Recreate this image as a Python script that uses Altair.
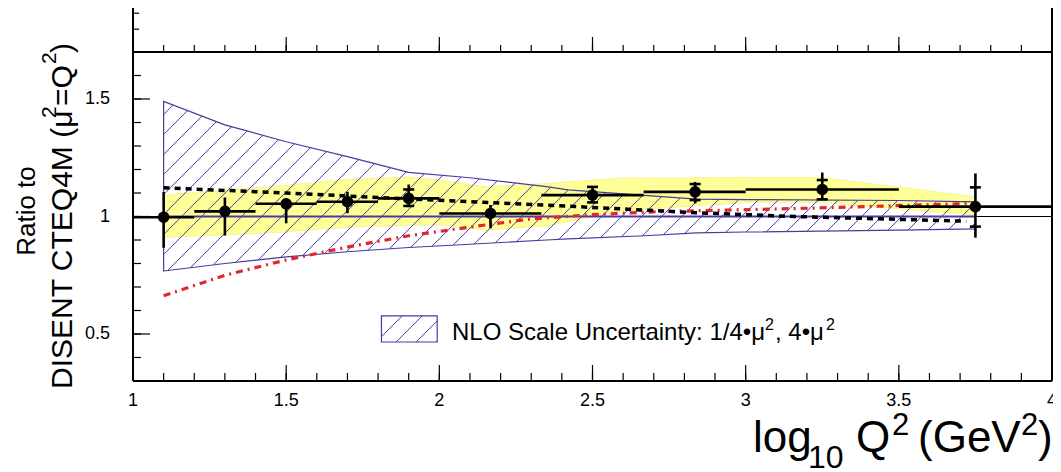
import altair as alt
import numpy as np
import pandas as pd

# ---------------- data ----------------
# measured ratio points
pt_x = [1.1, 1.3, 1.5, 1.7, 1.9, 2.167, 2.5, 2.835, 3.25, 3.75]
pt_xlo = [1.0, 1.2, 1.4, 1.6, 1.8, 2.0, 2.333, 2.667, 3.0, 3.5]
pt_xhi = [1.2, 1.4, 1.6, 1.8, 2.0, 2.333, 2.667, 3.0, 3.5, 4.0]
pt_y = [0.997, 1.022, 1.054, 1.063, 1.077, 1.013, 1.091, 1.105, 1.115, 1.042]
tot_lo = [0.867, 0.919, 0.971, 1.014, 1.040, 0.950, 1.056, 1.056, 1.070, 0.910]
tot_hi = [1.104, 1.081, 1.077, 1.105, 1.136, 1.049, 1.129, 1.147, 1.187, 1.183]
# inner (statistical) error crossbars
cb_x = [1.9, 1.9, 2.5, 2.5, 2.835, 2.835, 3.25, 3.25, 3.75, 3.75]
cb_y = [1.115, 1.045, 1.126, 1.060, 1.138, 1.070, 1.155, 1.073, 1.124, 0.957]

# NLO scale uncertainty band (hatched)
nlo_x = [1.1, 1.3, 1.5, 1.7, 1.9, 2.1, 2.35, 2.42, 2.67, 2.84, 3.0, 3.5, 3.75]
nlo_hi = [1.49, 1.39, 1.318, 1.255, 1.188, 1.165, 1.127, 1.113, 1.09, 1.074, 1.072, 1.068, 1.062]
nlo_lo = [0.768, 0.80, 0.828, 0.85, 0.868, 0.882, 0.90, 0.905, 0.918, 0.93, 0.934, 0.942, 0.947]

# yellow cross-hatched band
yb_x = [1.1, 1.3, 1.5, 1.7, 1.9, 2.0, 2.15, 2.35, 2.5, 2.6, 3.0, 3.25, 3.75]
yb_hi = [1.09, 1.112, 1.133, 1.158, 1.168, 1.155, 1.126, 1.14, 1.155, 1.163, 1.166, 1.166, 1.084]
yb_lo = [0.912, 0.922, 0.935, 0.955, 0.963, 0.965, 0.943, 0.96, 1.0, 1.025, 1.06, 1.06, 1.006]

# black dashed curve
bd_x = [1.1, 1.5, 1.75, 2.1, 2.45, 2.84, 3.16, 3.72]
bd_y = [1.122, 1.10, 1.084, 1.063, 1.042, 1.016, 1.0, 0.98]

# red dash-dotted curve
rd_x = [1.1, 1.3, 1.5, 1.7, 1.9, 2.1, 2.3, 2.5, 2.7, 3.2, 3.75]
rd_y = [0.663, 0.75, 0.815, 0.87, 0.918, 0.955, 0.99, 1.008, 1.02, 1.035, 1.056]

# axis ticks / labels
x_labels = [1, 1.5, 2, 2.5, 3, 3.5, 4]
y_labels = [0.5, 1, 1.5]
x_major = [1.5, 2.0, 2.5, 3.0, 3.5]
x_minor = [round(1.1 + 0.1 * i, 2) for i in range(29)]
y_major = [0.5, 1.0, 1.5]
y_minor = [round(0.4 + 0.1 * i, 2) for i in range(13)]
upper_panel_ticks = [1.797, 1.865]

# texts: (text, x, y, font size) in page pixels; rotated ones give the start point
legend_parts = [("NLO Scale Uncertainty: 1/4\u2022\u03bc", 452, 340, 24),
                ("2", 765, 330, 16), (", 4\u2022\u03bc", 775, 340, 24), ("2", 826, 330, 16)]
xtitle_parts = [("log", 753, 452, 44), ("10", 808, 468, 32), ("Q", 856, 452, 44),
                ("2", 892, 435, 31), ("(GeV", 918, 452, 44), ("2", 1021, 435, 31),
                (")", 1038, 452, 44)]
ytitle1 = ("Ratio to", 35, 211, 26)
ytitle2_parts = [("DISENT CTEQ4M (\u03bc", 72, 389, 30), ("2", 56, 118, 21),
                 ("=Q", 72, 106, 30), ("2", 56, 64, 21), (")", 72, 53, 30)]

# ---------------- geometry / styles ----------------
W, H = 919, 329
OX, OY = 133, 52  # plot origin on the page
XMIN, XMAX, YMIN, YMAX = 1.0, 4.0, 0.3, 1.7
YTOP = YMAX + 44 / (H / (YMAX - YMIN))
FONT = "Liberation Sans"
PURPLE = "#4a3a9e"
RED = "#e3262c"

xs = alt.Scale(domain=[XMIN, XMAX], nice=False, zero=False)
ys = alt.Scale(domain=[YMIN, YMAX], nice=False, zero=False)


def X(f, **k):
    return alt.X(f, type="quantitative", scale=xs, axis=None, **k)


def Y(f, **k):
    return alt.Y(f, type="quantitative", scale=ys, axis=None, **k)


# hatch lines (45 deg in screen space) clipped to a band
px_per_x = W / (XMAX - XMIN)
px_per_y = H / (YMAX - YMIN)
SLOPE = px_per_x / px_per_y
SPACING = SLOPE * 20 / px_per_x


def hatch(bx, blo, bhi):
    xx = np.linspace(bx[0], bx[-1], 5000)
    lo = np.interp(xx, bx, blo)
    hi = np.interp(xx, bx, bhi)
    cmin = (lo - SLOPE * xx).min()
    cmax = (hi - SLOPE * xx).max()
    rows = []
    for c in np.arange(np.ceil(cmin / SPACING) * SPACING, cmax, SPACING):
        yy = c + SLOPE * xx
        idx = np.where((yy >= lo) & (yy <= hi))[0]
        if len(idx) < 2:
            continue
        a, b = idx[0], idx[-1]
        rows.append({"x": xx[a], "y": yy[a], "x2": xx[b], "y2": yy[b]})
    return pd.DataFrame(rows)


# legend box in data coordinates
lg_x = [1.811, 1.993]
lg_y = [0.466, 0.577]

nlo_df = pd.DataFrame({"x": nlo_x, "lo": nlo_lo, "hi": nlo_hi})
yb_df = pd.DataFrame({"x": yb_x, "lo": yb_lo, "hi": yb_hi})
bd_df = pd.DataFrame({"x": bd_x, "y": bd_y})
rd_df = pd.DataFrame({"x": rd_x, "y": rd_y})
pts = pd.DataFrame({"x": pt_x, "xlo": pt_xlo, "xhi": pt_xhi, "y": pt_y,
                    "lo": tot_lo, "hi": tot_hi})
cb_df = pd.DataFrame({"x": cb_x, "y": cb_y})
hatch_df = hatch(nlo_x, nlo_lo, nlo_hi)
lg_hatch = hatch(lg_x, [lg_y[0]] * 2, [lg_y[1]] * 2)

yellow = alt.Chart(yb_df).mark_area(
    color="#ffff00", opacity=0.4, stroke="#f0ea00", strokeWidth=1.2
).encode(x=X("x"), y=Y("lo"), y2="hi")

hatch_lines = alt.Chart(hatch_df).mark_rule(color=PURPLE, strokeWidth=1).encode(
    x=X("x"), y=Y("y"), x2="x2", y2="y2")

nlo_outline = alt.Chart(nlo_df).mark_area(
    fillOpacity=0, stroke=PURPLE, strokeWidth=1.2
).encode(x=X("x"), y=Y("lo"), y2="hi")

one_line = alt.Chart(pd.DataFrame({"x": [XMIN], "x2": [XMAX], "y": [1.0]})).mark_rule(
    color="black", strokeWidth=1).encode(x=X("x"), x2="x2", y=Y("y"))

nlo_center = alt.Chart(pd.DataFrame({"x": [nlo_x[0]], "x2": [nlo_x[-1]], "y": [1.0]})).mark_rule(
    color=PURPLE, strokeWidth=1.8).encode(x=X("x"), x2="x2", y=Y("y"))

red_line = alt.Chart(rd_df).mark_line(
    color=RED, strokeWidth=3.2, strokeDash=[7, 5, 2, 5]
).encode(x=X("x"), y=Y("y"))

black_dash = alt.Chart(bd_df).mark_line(
    color="black", strokeWidth=3.5, strokeDash=[6, 5]
).encode(x=X("x"), y=Y("y"))

xerr = alt.Chart(pts).mark_rule(color="black", strokeWidth=2.6).encode(
    x=X("xlo"), x2="xhi", y=Y("y"))
yerr = alt.Chart(pts).mark_rule(color="black", strokeWidth=2.6).encode(
    x=X("x"), y=Y("lo"), y2="hi")
crossbars = alt.Chart(cb_df).mark_tick(
    color="black", orient="horizontal", size=11, thickness=2.6, opacity=1
).encode(x=X("x"), y=Y("y"))
dots = alt.Chart(pts).mark_circle(color="black", size=135, opacity=1).encode(
    x=X("x"), y=Y("y"))

# frame
frame_df = pd.DataFrame({
    "x": [XMIN, XMAX, XMIN, XMIN], "x2": [XMIN, XMAX, XMAX, XMAX],
    "y": [YMIN, YMIN, YMAX, YMIN], "y2": [YTOP, YTOP, YMAX, YMIN]})
frame = alt.Chart(frame_df).mark_rule(color="black", strokeWidth=2).encode(
    x=X("x"), x2="x2", y=Y("y"), y2="y2")


def xticks(vals, y0, y1):
    return alt.Chart(pd.DataFrame({"x": vals})).mark_rule(
        color="black", strokeWidth=1.2).encode(x=X("x"), y=alt.value(y0), y2=alt.value(y1))


def yticks(vals, length):
    return alt.Chart(pd.DataFrame({"y": vals})).mark_rule(
        color="black", strokeWidth=1.2).encode(y=Y("y"), x=alt.value(0), x2=alt.value(length))


tick_layers = [
    xticks(x_minor, H, H - 8), xticks(x_major, H, H - 16),
    xticks(x_minor, 0, -7), xticks(x_major, 0, -15),
    yticks(y_minor, 8), yticks(y_major, 17), yticks(upper_panel_ticks, 6),
]

# tick labels
xlab = alt.Chart(pd.DataFrame({"v": x_labels})).mark_text(
    font=FONT, fontSize=18, baseline="middle", align="center", color="black"
).encode(x=X("v"), y=alt.value(H + 20), text=alt.Text("v:Q", format="~g"))
ylab = alt.Chart(pd.DataFrame({"v": y_labels})).mark_text(
    font=FONT, fontSize=18, baseline="middle", align="right", color="black"
).encode(y=Y("v"), x=alt.value(-23), text=alt.Text("v:Q", format="~g"))

# legend
lg_box = alt.Chart(pd.DataFrame({"x": [lg_x[0]], "x2": [lg_x[1]], "y": [lg_y[0]], "y2": [lg_y[1]]})).mark_rect(
    fill="white", fillOpacity=0, stroke=PURPLE, strokeWidth=1.2).encode(
    x=X("x"), x2="x2", y=Y("y"), y2="y2")
lg_lines = alt.Chart(lg_hatch).mark_rule(color=PURPLE, strokeWidth=1).encode(
    x=X("x"), y=Y("y"), x2="x2", y2="y2")


def text_df(parts):
    return pd.DataFrame({"t": [p[0] for p in parts],
                         "px": [p[1] - OX for p in parts],
                         "py": [p[2] - OY for p in parts],
                         "fs": [p[3] for p in parts]})


def text_layer(parts, angle=0):
    kw = {"angle": angle} if angle else {}
    return alt.Chart(text_df(parts)).mark_text(
        font=FONT, align="left", baseline="alphabetic", color="black", **kw
    ).encode(x=alt.X("px:Q", scale=None), y=alt.Y("py:Q", scale=None),
             text="t:N", size=alt.Size("fs:Q", scale=None, legend=None))


lg_label = text_layer(legend_parts)
xtitle = text_layer(xtitle_parts)
yt2 = text_layer(ytitle2_parts, angle=270)
yt1 = alt.Chart(text_df([ytitle1])).mark_text(
    font=FONT, align="center", baseline="alphabetic", color="black", angle=270
).encode(x=alt.X("px:Q", scale=None), y=alt.Y("py:Q", scale=None),
         text="t:N", size=alt.Size("fs:Q", scale=None, legend=None))

chart = alt.layer(
    yellow, hatch_lines, nlo_outline, one_line, nlo_center, red_line, black_dash,
    xerr, yerr, crossbars, dots, frame, *tick_layers, xlab, ylab,
    lg_box, lg_lines, lg_label, yt1, yt2, xtitle,
).properties(
    width=W, height=H,
    padding={"left": 125, "top": 44, "right": 1, "bottom": 91},
    autosize=alt.AutoSizeParams(type="none"),
).configure_view(stroke=None).configure(background="white")

chart.save("out.html", embed_options={"renderer": "svg", "actions": False})
